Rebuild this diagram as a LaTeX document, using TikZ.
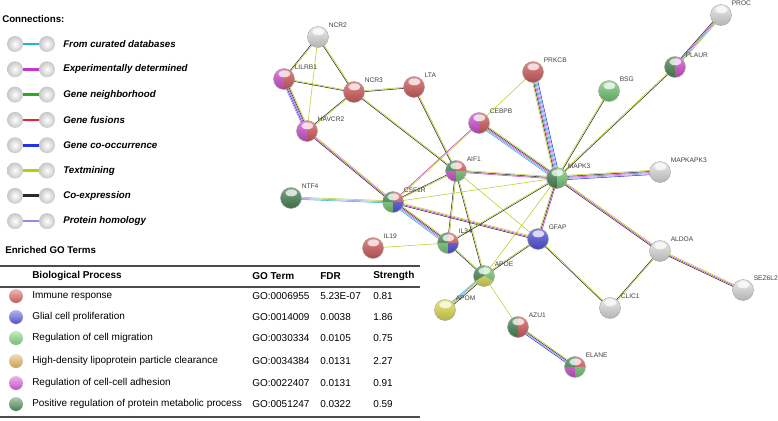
\documentclass[tikz,border=0pt]{standalone}
\usepackage{fontspec}
\setmainfont{Liberation Sans}
\usetikzlibrary{calc,fadings}

% edge evidence colours
\definecolor{ecur}{HTML}{22B4D2}
\definecolor{eexp}{HTML}{CC33CC}
\definecolor{enb}{HTML}{22B022}
\definecolor{efus}{HTML}{EE2222}
\definecolor{ecooc}{HTML}{2233EE}
\definecolor{etm}{HTML}{B8CC1A}
\definecolor{ecoex}{HTML}{2A2A2A}
\definecolor{ehom}{HTML}{8C8CF4}

% enrichment colours
\definecolor{rd}{HTML}{D96464}
\definecolor{bl}{HTML}{5A5AE0}
\definecolor{lg}{HTML}{7DCF7D}
\definecolor{dg}{HTML}{4F8C5C}
\definecolor{mg}{HTML}{D65AD6}
\definecolor{yl}{HTML}{E4E45A}
\definecolor{wh}{HTML}{E6E6E6}
\definecolor{tn}{HTML}{DDB060}

\edef \rr {10.5}

\tikzset{
	gname/.style={font=\fontsize{5}{6}\selectfont, text=black!75, inner sep=0pt, anchor=base west},
	legball/.style={circle, minimum size=12pt, inner sep=0pt, shade, inner color=white, outer color=black!22},
	legtext/.style={font=\fontsize{7.3}{9}\selectfont\bfseries\itshape, anchor=west, inner sep=0pt},
	title/.style={font=\fontsize{7.3}{9}\selectfont\bfseries, anchor=west, inner sep=0pt},
	cell/.style={font=\fontsize{7.5}{9}\selectfont, anchor=west, inner sep=0pt},
	headcell/.style={font=\fontsize{7.5}{9}\selectfont\bfseries, anchor=west, inner sep=0pt},
	goball/.style={circle, minimum size=10.5pt, inner sep=0pt, shade, top color=#1!45!white, bottom color=#1!90!black},
	tabrule/.style={black!70, line width=1pt},
}

% parallel evidence lines between two proteins
\newcommand{\conn}[3]{%
	\gdef\nlines{0}%
	\foreach \ec in {#3} {\pgfmathtruncatemacro\tmp{\nlines+1}\xdef\nlines{\tmp}}%
	\foreach \ec [count=\i] in {#3}
	{
		\pgfmathsetmacro \off {(\i-(\nlines+1)/2)*0.8}
		\draw[\ec, line width=0.4pt] ($(#1)!\off pt!90:(#2)$) -- ($(#2)!\off pt!-90:(#1)$);
	}%
}

% protein ball split in slices
\newcommand{\gball}[2]{%
	\foreach \col/\a/\b in {#2}
		\fill[\col] (#1) -- ++(\a:\rr) arc[start angle=\a, end angle=\b, radius=\rr] -- cycle;
	\shade[top color=white, bottom color=black, opacity=0.22] (#1) circle (\rr);
	\fill[white, opacity=0.75, path fading=circle with fuzzy edge 20 percent] ($(#1)+(0,-5.5)$) ellipse (6.5 and 4);
	\draw[black!35, line width=0.35pt] (#1) circle (\rr);
	\node[gname] (#1-name) at ($(#1)+(10.5,-10)$) {#1};
}

\begin{document}
\begin{tikzpicture}[x=0.75pt, y=-0.75pt]
	\useasboundingbox (0,0) rectangle (778,421);

	% legend
	\node[title] (conn) at (2,19) {Connections:};
	\foreach \ec/\txt [count=\i from 0] in {ecur/From curated databases, eexp/Experimentally determined, enb/Gene neighborhood, efus/Gene fusions, ecooc/Gene co-occurrence, etm/Textmining, ecoex/Co-expression, ehom/Protein homology}
{
	\pgfmathsetmacro \y {44+25.3*\i}
	\node[legball] (la\i) at (15,\y) {};
	\node[legball] (lb\i) at (47,\y) {};
	\draw[\ec, line width=2pt] (la\i) -- (lb\i);
	\node[legtext] (lt\i) at (63,\y) {\txt};
}

	% GO table
	\node[title] (goterms) at (5,250) {Enriched GO Terms};
	\draw[tabrule] (0,266) -- (420,266);
	\draw[tabrule] (0,287) -- (420,287);
	\draw[tabrule] (0,417) -- (420,417);
	\node[headcell] (hproc) at (32,276) {Biological Process};
	\node[headcell] (hgo) at (252,276) {GO Term};
	\node[headcell] (hfdr) at (320,276) {FDR};
	\node[headcell] (hstr) at (373,276) {Strength};
	\foreach \col/\y/\proc/\go/\fdr/\str [count=\i] in {rd/296/Immune response/GO:0006955/5.23E-07/0.81, bl/317/Glial cell proliferation/GO:0014009/0.0038/1.86, lg/338/Regulation of cell migration/GO:0030334/0.0105/0.75, tn/361/High-density lipoprotein particle clearance/GO:0034384/0.0131/2.27, mg/383/Regulation of cell-cell adhesion/GO:0022407/0.0131/0.91, dg/404/Positive regulation of protein metabolic process/GO:0051247/0.0322/0.59}
{
	\node[goball=\col] (gi\i) at (16,\y) {};
	\node[cell] (gp\i) at (32,\y) {\proc};
	\node[cell] (gg\i) at (252,\y) {\go};
	\node[cell] (gf\i) at (320,\y) {\fdr};
	\node[cell] (gs\i) at (373,\y) {\str};
}

	% network
	\foreach \g/\x/\y in {NCR2/318/37, LILRB1/284/79, NCR3/354/92, LTA/414/87, HAVCR2/307/131, CEBPB/479/123, PRKCB/533/72, BSG/609/91, PLAUR/675/67, PROC/721/15, MAPKAPK3/660/172, MAPK3/557/178, AIF1/456/171, NTF4/291/198, CSF1R/393/202, IL19/373/248, IL34/448/243, GFAP/538/239, APOE/484/276, APOM/445/310, AZU1/518/327, ELANE/575/367, ALDOA/660/251, CLIC1/610/308, SEZ6L2/743/290}
		\coordinate (\g) at (\x,\y);

	\conn{NCR2}{LILRB1}{ecoex,etm}
	\conn{NCR2}{NCR3}{ecoex,etm}
	\conn{NCR2}{HAVCR2}{etm}
	\conn{LILRB1}{NCR3}{ecoex,etm}
	\conn{LILRB1}{HAVCR2}{ehom,ecooc,eexp,ecoex,etm}
	\conn{NCR3}{HAVCR2}{ecoex,etm}
	\conn{NCR3}{LTA}{ecoex,etm}
	\conn{NCR3}{AIF1}{ecoex,etm}
	\conn{LTA}{AIF1}{ecoex,etm}
	\conn{HAVCR2}{CSF1R}{ecoex,eexp,etm}
	\conn{CEBPB}{CSF1R}{eexp,etm}
	\conn{CEBPB}{MAPK3}{ecur,ehom,eexp,ecoex,etm}
	\conn{CEBPB}{PRKCB}{etm}
	\conn{AIF1}{CSF1R}{ecoex,etm}
	\conn{AIF1}{MAPK3}{eexp,ecoex,etm}
	\conn{AIF1}{IL34}{ecoex,etm}
	\conn{AIF1}{APOE}{ecoex,etm}
	\conn{AIF1}{GFAP}{etm}
	\conn{NTF4}{CSF1R}{ecur,ehom,etm}
	\conn{CSF1R}{IL34}{ecur,ehom,eexp,ecoex,etm}
	\conn{CSF1R}{GFAP}{ecoex,eexp,etm}
	\conn{CSF1R}{MAPK3}{etm}
	\conn{IL19}{IL34}{etm}
	\conn{IL34}{MAPK3}{ecoex,etm}
	\conn{IL34}{APOE}{ecoex,etm}
	\conn{APOE}{MAPK3}{etm}
	\conn{APOE}{GFAP}{ecoex,etm}
	\conn{APOE}{APOM}{ecur,ehom,etm,ecoex}
	\conn{APOE}{AZU1}{etm}
	\conn{AZU1}{ELANE}{ecooc,ehom,ecoex,etm}
	\conn{GFAP}{MAPK3}{eexp,ecoex,etm}
	\conn{GFAP}{CLIC1}{ecoex,etm}
	\conn{MAPK3}{ALDOA}{ecoex,eexp,etm}
	\conn{MAPK3}{PRKCB}{ecooc,ehom,ecur,eexp,ecoex,etm}
	\conn{MAPK3}{BSG}{ecoex,etm}
	\conn{MAPK3}{PLAUR}{ecoex,etm}
	\conn{MAPK3}{MAPKAPK3}{ecooc,ehom,eexp,ecoex,etm}
	\conn{PLAUR}{PROC}{etm,ecur,eexp,ecoex}
	\conn{ALDOA}{CLIC1}{ecoex,etm}
	\conn{ALDOA}{SEZ6L2}{ecoex,eexp,etm}

	\gball{NCR2}{wh/0/360}
	\gball{LILRB1}{mg/90/270, rd/-90/90}
	\gball{NCR3}{rd/0/360}
	\gball{LTA}{rd/0/360}
	\gball{HAVCR2}{mg/90/270, rd/-90/90}
	\gball{CEBPB}{mg/90/270, rd/-90/90}
	\gball{PRKCB}{rd/0/360}
	\gball{BSG}{lg/0/360}
	\gball{PLAUR}{dg/90/270, mg/-90/90}
	\gball{PROC}{wh/0/360}
	\gball{MAPKAPK3}{wh/0/360}
	\gball{MAPK3}{dg/90/270, lg/-90/90}
	\gball{AIF1}{dg/180/270, rd/270/360, mg/90/180, lg/0/90}
	\gball{NTF4}{dg/0/360}
	\gball{CSF1R}{dg/180/270, rd/270/360, lg/90/180, bl/0/90}
	\gball{IL19}{rd/0/360}
	\gball{IL34}{dg/180/270, rd/270/360, lg/90/180, bl/0/90}
	\gball{GFAP}{bl/0/360}
	\gball{APOE}{dg/150/270, lg/270/390, yl/30/150}
	\gball{APOM}{yl/0/360}
	\gball{AZU1}{dg/90/270, rd/-90/90}
	\gball{ELANE}{dg/180/270, rd/270/360, mg/90/180, lg/0/90}
	\gball{ALDOA}{wh/0/360}
	\gball{CLIC1}{wh/0/360}
	\gball{SEZ6L2}{wh/0/360}

\end{tikzpicture}
\end{document}
